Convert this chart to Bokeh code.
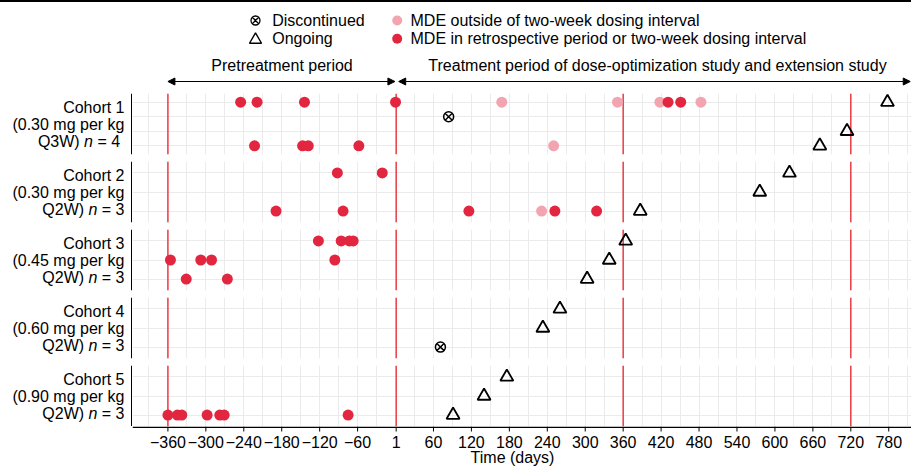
from bokeh.plotting import figure
from bokeh.layouts import column, row
from bokeh.models import Range1d, FixedTicker, Span, Label, Arrow, NormalHead, ColumnDataSource, Grid, Div
from bokeh.core.properties import value
from bokeh.embed import file_html
from bokeh.resources import INLINE

# ---------------- data ----------------
COHORT_NAMES = ["Cohort 1", "Cohort 2", "Cohort 3", "Cohort 4", "Cohort 5"]
DOSES = ["(0.30 mg per kg", "(0.30 mg per kg", "(0.45 mg per kg", "(0.60 mg per kg", "(0.90 mg per kg"]
SCHEDULES = ["Q3W)", "Q2W)", "Q2W)", "Q2W)", "Q2W)"]
N_PATIENTS = [4, 3, 3, 3, 3]

# MDE in retrospective period or two-week dosing interval
MDE_IN_COHORT = [1, 1, 1, 1, 1, 1, 1, 1, 1, 1, 2, 2, 2, 2, 2, 2, 2,
                 3, 3, 3, 3, 3, 3, 3, 3, 3, 3, 5, 5, 5, 5, 5, 5, 5]
MDE_IN_PATIENT = [1, 1, 1, 1, 1, 1, 4, 4, 4, 4, 1, 1, 3, 3, 3, 3, 3,
                  1, 1, 1, 1, 2, 2, 2, 2, 3, 3, 3, 3, 3, 3, 3, 3, 3]
MDE_IN_DAY = [-245, -219, -144, 0, 431, 451, -223, -147, -138, -58, -92, -21, -189, -83, 116, 252, 318,
              -122, -86, -73, -67, -356, -308, -291, -96, -331, -266, -360, -345, -338, -298, -278, -271, -75]

# MDE outside of two-week dosing interval
MDE_OUT_COHORT = [1, 1, 1, 1, 1, 2]
MDE_OUT_PATIENT = [1, 1, 1, 1, 4, 3]
MDE_OUT_DAY = [168, 351, 418, 483, 250, 231]

# Ongoing (last follow-up)
ONGOING_COHORT = [1, 1, 1, 2, 2, 2, 3, 3, 3, 4, 4, 5, 5, 5]
ONGOING_PATIENT = [1, 3, 4, 1, 2, 3, 1, 2, 3, 1, 2, 1, 2, 3]
ONGOING_DAY = [778, 714, 671, 623, 576, 387, 364, 338, 303, 260, 233, 176, 140, 91]

# Discontinued
DISC_COHORT = [1, 4]
DISC_PATIENT = [2, 3]
DISC_DAY = [84, 71]

REF_LINE_DAYS = [-360, 1, 360, 720]
TICKS = [-360, -300, -240, -180, -120, -60, 1, 60, 120, 180, 240, 300, 360, 420, 480, 540, 600, 660, 720, 780]
TICK_LABELS = ["\u2212360", "\u2212300", "\u2212240", "\u2212180", "\u2212120", "\u221260", "1", "60", "120", "180",
               "240", "300", "360", "420", "480", "540", "600", "660", "720", "780"]
MINOR_GRID = [-390, -330, -270, -210, -150, -90, -30, 30, 90, 150, 210, 270, 330, 390, 450, 510, 570, 630, 690, 750, 810]

LEGEND_LABELS = ["Discontinued", "Ongoing", "MDE outside of two-week dosing interval",
                 "MDE in retrospective period or two-week dosing interval"]
PERIOD_LABELS = ["Pretreatment period", "Treatment period of dose-optimization study and extension study"]
X_TITLE = "Time (days)"

# ---------------- style ----------------
FONT = "Liberation Sans"
FS = "16px"
RED = "#e2263f"
PINK = "#f2a5b0"
REDLINE = "#ec3b43"
GRID = "#ebebeb"

W = 911
LEFT = 132                 # width of the label column
FRAME_W = W - LEFT
X_START, X_END = -416, 816
x_range = Range1d(X_START, X_END)


def px2day(px):
    return X_START + (px - LEFT) * (X_END - X_START) / FRAME_W


def lab(p, text, x, y, **kw):
    opts = dict(text_font=FONT, text_font_size=FS, text_color="black", text_baseline="middle")
    opts.update(kw)
    p.add_layout(Label(x=x, y=y, text=text, **opts))


def bare(**kw):
    base = dict(toolbar_location=None, output_backend="svg", x_axis_type=None, y_axis_type=None,
                min_border=0, outline_line_color=None)
    base.update(kw)
    return figure(**base)


# ---------------- thin black rule at the very top ----------------
rule = Div(text="", width=W, height=2, margin=0, styles={"background-color": "black"})

# ---------------- legend & period annotations ----------------
TOP_H = 91
top = bare(width=W, height=TOP_H, x_range=x_range, y_range=Range1d(TOP_H + 2, 2), min_border_left=LEFT)

lx1, lx2 = 255, 396.7
ly1, ly2 = 20, 38.3
top.scatter(x=[px2day(lx1)], y=[ly1], marker="circle_x", size=9, fill_color=None,
            line_color="black", line_width=1.3)
top.scatter(x=[px2day(lx1)], y=[ly2 + 1], marker="triangle", size=12, fill_color=None,
            line_color="black", line_width=1.4)
top.scatter(x=[px2day(lx2)], y=[ly1], marker="circle", size=10, fill_color=PINK, line_color=None)
top.scatter(x=[px2day(lx2)], y=[ly2], marker="circle", size=10, fill_color=RED, line_color=None)
lab(top, LEGEND_LABELS[0], px2day(271.7), ly1)
lab(top, LEGEND_LABELS[1], px2day(271.7), ly2)
lab(top, LEGEND_LABELS[2], px2day(410), ly1)
lab(top, LEGEND_LABELS[3], px2day(410), ly2)

lab(top, PERIOD_LABELS[0], (REF_LINE_DAYS[0] + REF_LINE_DAYS[1]) / 2, 65, text_align="center")
lab(top, PERIOD_LABELS[1], px2day(657), 65, text_align="center")


def head():
    return NormalHead(size=7, fill_color="black", line_color="black", line_width=1)


top.add_layout(Arrow(start=head(), end=head(), x_start=REF_LINE_DAYS[0], x_end=REF_LINE_DAYS[1] - 2,
                     y_start=81, y_end=81, line_color="black", line_width=1))
top.add_layout(Arrow(start=head(), end=head(), x_start=REF_LINE_DAYS[1] + 4, x_end=X_END - 2,
                     y_start=81, y_end=81, line_color="black", line_width=1))


# ---------------- panels ----------------
def pick(cohorts, patients, days, c):
    xs = [d for cc, d in zip(cohorts, days) if cc == c]
    ys = [pp for cc, pp in zip(cohorts, patients) if cc == c]
    return ColumnDataSource(dict(x=xs, y=ys))


rows = []
for i in range(5):
    c = i + 1
    n = N_PATIENTS[i]
    gap = 0 if i == 4 else 7
    yr = Range1d(n + 0.6, 0.4)

    # label column
    lf = bare(width=LEFT, height=61 + gap, x_range=Range1d(0, LEFT), y_range=yr, min_border_bottom=gap)
    lf.add_layout(Span(location=LEFT - 0.75, dimension="height", line_color="black", line_width=1.5))
    R = 119.6 if c == 1 else 124
    mid = (n + 1) / 2
    lab(lf, COHORT_NAMES[i], 124, mid, y_offset=17, text_align="right")
    lab(lf, DOSES[i], 124, mid, y_offset=0, text_align="right")
    lab(lf, "= %d" % n, R, mid, y_offset=-17.5, text_align="right")
    lab(lf, "n", R - 27.1, mid, y_offset=-17.5, text_align="right", text_font_style="italic")
    lab(lf, SCHEDULES[i], R - 40.4, mid, y_offset=-17.5, text_align="right")

    # panel
    p = bare(width=FRAME_W, height=61 + gap, x_range=x_range, y_range=yr, min_border_bottom=gap)
    p.add_layout(Grid(dimension=0, ticker=FixedTicker(ticks=TICKS, minor_ticks=MINOR_GRID),
                      grid_line_color=GRID, minor_grid_line_color=GRID))
    p.add_layout(Grid(dimension=1, ticker=FixedTicker(ticks=list(range(1, n + 1))), grid_line_color=GRID))
    for d in REF_LINE_DAYS:
        p.add_layout(Span(location=d, dimension="height", line_color=REDLINE, line_width=1.5, level="underlay"))

    p.scatter("x", "y", source=pick(MDE_OUT_COHORT, MDE_OUT_PATIENT, MDE_OUT_DAY, c),
              marker="circle", size=11, fill_color=PINK, line_color=None)
    p.scatter("x", "y", source=pick(MDE_IN_COHORT, MDE_IN_PATIENT, MDE_IN_DAY, c),
              marker="circle", size=11, fill_color=RED, line_color=None)
    p.scatter("x", "y", source=pick(ONGOING_COHORT, ONGOING_PATIENT, ONGOING_DAY, c),
              marker="triangle", size=13, fill_color=None, line_color="black", line_width=1.8)
    p.scatter("x", "y", source=pick(DISC_COHORT, DISC_PATIENT, DISC_DAY, c),
              marker="circle_x", size=10, fill_color=None, line_color="black", line_width=1.5)
    rows.append(row(lf, p, spacing=0))

# ---------------- x axis (line, ticks, labels, title) ----------------
BOT_H = 41
bot = bare(width=W, height=BOT_H, x_range=x_range, y_range=Range1d(BOT_H, 0), min_border_left=LEFT)
bot.segment(x0=[X_START], y0=[0.75], x1=[X_END], y1=[0.75], line_color="black", line_width=1.5)
bot.segment(x0=TICKS, y0=[0] * len(TICKS), x1=TICKS, y1=[5] * len(TICKS), line_color="black", line_width=1)
bot.text(x=TICKS, y=[15.7] * len(TICKS), text=TICK_LABELS, text_align="center", text_baseline="middle",
         text_font=value(FONT), text_font_size=FS, text_color="black")
bot.text(x=[px2day(512)], y=[31.2], text=[X_TITLE], text_align="center", text_baseline="middle",
         text_font=value(FONT), text_font_size=FS, text_color="black")

layout = column(rule, top, *rows, bot, spacing=0)
open("out.html", "w").write(file_html(layout, INLINE))
